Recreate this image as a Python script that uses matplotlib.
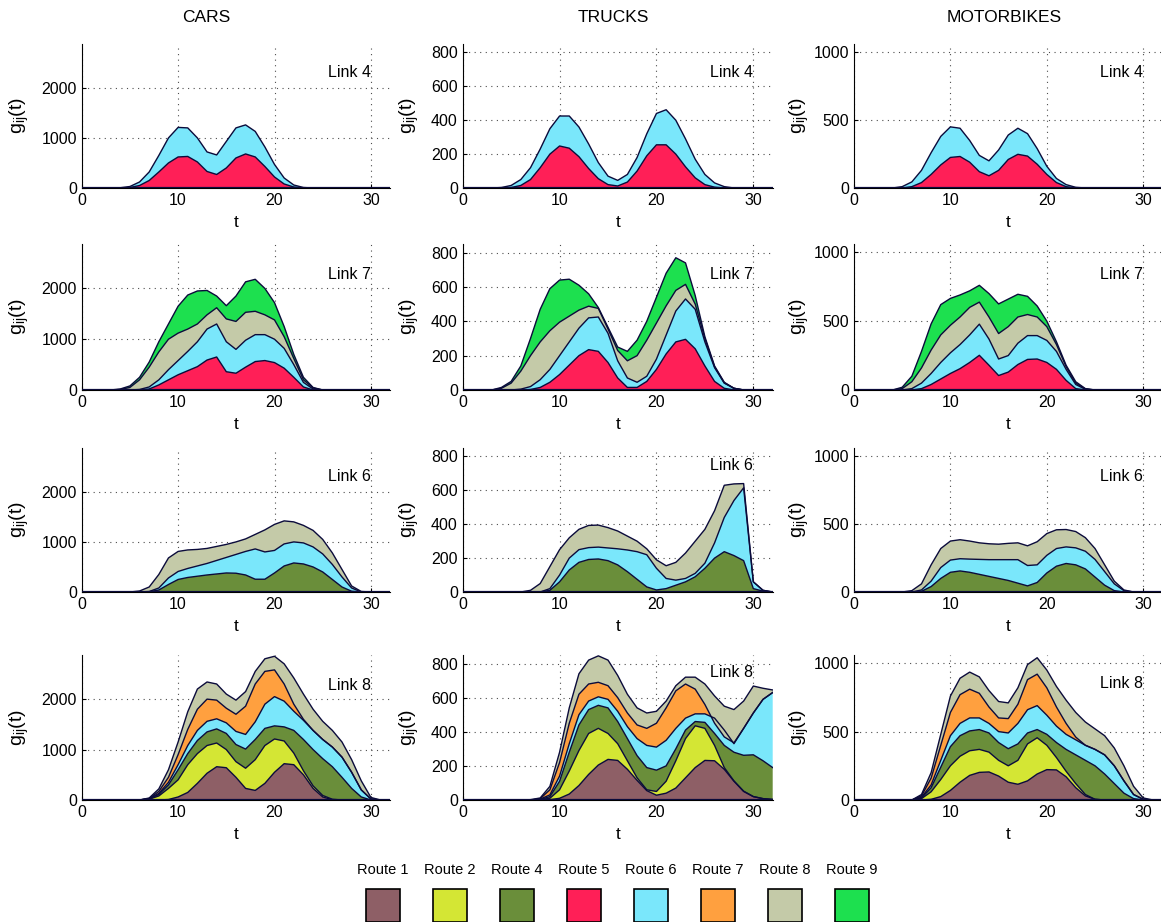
import numpy as np
import matplotlib
matplotlib.use("Agg")
import matplotlib.pyplot as plt

plt.rcParams["font.family"] = ["Liberation Sans", "DejaVu Sans"]
plt.rcParams["mathtext.fontset"] = "custom"
plt.rcParams["mathtext.rm"] = "Liberation Sans"

# time grid (t = 0 .. 32)
t = np.arange(33)

route_names = ["Route 1", "Route 2", "Route 4", "Route 5", "Route 6", "Route 7", "Route 8", "Route 9"]
route_colors = ["#8e5f66", "#d4e634", "#6a8e3a", "#ff1f57", "#7ae7fb", "#ffa03f", "#c4caa8", "#1de04f"]
color_of = dict(zip(route_names, route_colors))

vehicles = ["CARS", "TRUCKS", "MOTORBIKES"]
links = ["Link 4", "Link 7", "Link 6", "Link 8"]
ymax = [2875, 850, 1060]
yticks = [[0, 1000, 2000], [0, 200, 400, 600, 800], [0, 500, 1000]]

# stacked layers: routes listed bottom-up, values are the top of each layer
link4_routes = ["Route 5", "Route 6"]
cars_link4 = [
    [0,0,0,0,0,10,50,150,320,500,620,630,520,330,270,400,600,680,620,430,220,80,20,0,0,0,0,0,0,0,0,0,0],
    [0,0,0,0,5,30,120,320,650,1000,1210,1200,1000,720,660,930,1200,1260,1130,820,470,200,60,10,0,0,0,0,0,0,0,0,0],
]
trucks_link4 = [
    [0,0,0,0,0,3,15,50,120,200,248,235,185,115,55,20,12,35,100,190,255,255,200,125,60,20,5,0,0,0,0,0,0],
    [0,0,0,0,3,15,50,120,230,350,425,425,360,260,150,70,45,80,180,320,440,462,400,290,170,80,30,8,0,0,0,0,0],
]
moto_link4 = [
    [0,0,0,0,0,0,10,40,100,170,225,232,190,120,90,130,210,248,235,175,100,40,10,0,0,0,0,0,0,0,0,0,0],
    [0,0,0,0,0,10,45,130,260,380,450,440,350,240,200,280,390,440,400,290,160,70,25,5,0,0,0,0,0,0,0,0,0],
]

link7_routes = ["Route 5", "Route 6", "Route 8", "Route 9"]
cars_link7 = [
    [0,0,0,0,0,0,0,20,100,200,300,380,460,590,650,360,330,450,560,580,540,430,250,60,0,0,0,0,0,0,0,0,0],
    [0,0,0,0,0,0,10,60,200,400,580,760,950,1200,1300,950,800,980,1090,1090,1000,820,500,150,20,0,0,0,0,0,0,0,0],
    [0,0,0,0,10,50,200,450,750,1000,1120,1200,1300,1480,1620,1400,1350,1530,1550,1480,1380,1050,620,200,40,0,0,0,0,0,0,0,0],
    [0,0,0,0,20,80,250,550,950,1300,1650,1870,1950,1960,1850,1660,1850,2130,2180,2000,1720,1250,700,250,50,0,0,0,0,0,0,0,0],
]
trucks_link7 = [
    [0,0,0,0,0,0,0,3,15,45,90,145,200,235,225,160,70,15,15,50,120,210,280,295,240,140,50,10,0,0,0,0,0],
    [0,0,0,0,0,0,5,20,60,120,200,280,360,420,425,330,170,70,45,80,180,320,460,530,470,280,130,40,10,0,0,0,0],
    [0,0,0,0,10,40,110,200,280,345,395,430,465,488,475,355,230,170,200,290,390,490,580,615,500,300,135,42,10,0,0,0,0],
    [0,0,0,0,15,50,140,300,470,590,640,645,610,560,480,365,250,225,290,400,540,680,770,740,550,310,140,45,10,0,0,0,0],
]
moto_link7 = [
    [0,0,0,0,0,0,0,10,40,80,120,155,200,252,180,105,130,185,222,225,200,150,70,10,0,0,0,0,0,0,0,0,0],
    [0,0,0,0,0,0,10,50,120,200,270,330,400,478,370,225,250,340,395,395,360,280,150,40,5,0,0,0,0,0,0,0,0],
    [0,0,0,0,0,10,60,160,290,400,470,530,600,638,530,410,460,530,548,530,460,330,170,50,8,0,0,0,0,0,0,0,0],
    [0,0,0,0,0,20,100,280,480,620,665,690,720,760,700,625,660,695,680,610,500,350,180,60,10,0,0,0,0,0,0,0,0],
]

link6_routes = ["Route 4", "Route 6", "Route 8"]
cars_link6 = [
    [0,0,0,0,0,0,0,5,40,150,250,290,315,340,360,380,375,340,255,255,380,520,580,560,500,400,250,100,15,0,0,0,0],
    [0,0,0,0,0,0,0,10,80,280,410,470,520,570,630,690,750,810,860,800,830,960,1000,980,900,760,550,300,80,0,0,0,0],
    [0,0,0,0,0,0,20,100,350,680,810,840,850,870,910,950,1000,1060,1150,1240,1350,1420,1400,1330,1230,1050,780,450,120,10,0,0,0],
]
trucks_link6 = [
    [0,0,0,0,0,0,0,0,0,10,60,130,175,192,195,185,160,120,75,30,12,20,40,60,90,140,200,238,215,185,20,5,0],
    [0,0,0,0,0,0,0,0,0,20,100,200,250,262,265,260,255,248,238,220,140,80,70,80,110,170,290,440,540,615,60,10,0],
    [0,0,0,0,0,0,0,10,50,150,250,320,370,393,395,380,360,330,300,255,190,155,175,230,300,370,480,630,638,640,60,10,0],
]
moto_link6 = [
    [0,0,0,0,0,0,0,5,40,100,145,155,145,130,115,100,85,65,45,70,140,190,210,200,170,110,50,10,0,0,0,0,0],
    [0,0,0,0,0,0,0,15,80,180,235,245,242,240,238,238,238,238,195,200,270,320,332,325,300,240,150,60,10,0,0,0,0],
    [0,0,0,0,0,0,10,60,200,320,375,385,375,362,355,352,358,362,340,370,430,458,460,445,400,320,200,80,15,0,0,0,0],
]

link8_routes = ["Route 1", "Route 2", "Route 4", "Route 6", "Route 7", "Route 8"]
cars_link8 = [
    [0,0,0,0,0,0,0,0,0,10,60,150,330,530,660,640,450,230,190,330,550,720,700,500,230,60,5,0,0,0,0,0,0],
    [0,0,0,0,0,0,0,15,80,230,400,700,920,1080,1130,1000,760,630,800,1080,1210,1170,930,580,280,90,15,0,0,0,0,0,0],
    [0,0,0,0,0,0,0,20,110,300,600,920,1180,1350,1410,1320,1100,1010,1200,1420,1470,1450,1380,1200,1000,820,660,450,230,60,0,0,0],
    [0,0,0,0,0,0,0,25,130,350,700,1080,1380,1560,1610,1530,1360,1300,1550,1900,2050,1960,1760,1580,1380,1200,1050,850,550,200,20,0,0],
    [0,0,0,0,0,0,0,30,170,450,900,1400,1800,2000,1980,1820,1700,1860,2300,2550,2580,2300,1900,1600,1380,1200,1050,850,550,200,20,0,0],
    [0,0,0,0,0,0,0,40,220,600,1150,1750,2200,2340,2300,2100,1980,2150,2550,2800,2850,2700,2420,2100,1800,1560,1380,1150,800,380,50,0,0],
]
trucks_link8 = [
    [0,0,0,0,0,0,0,0,0,2,10,35,85,150,205,238,232,180,115,55,28,40,70,130,190,232,230,180,110,50,20,8,3],
    [0,0,0,0,0,0,0,0,2,10,60,170,290,390,420,390,330,230,130,60,50,110,230,360,435,420,320,190,112,52,20,8,3],
    [0,0,0,0,0,0,0,0,3,20,110,280,440,530,555,540,460,360,260,190,175,200,300,410,460,455,390,320,280,262,265,230,190],
    [0,0,0,0,0,0,0,0,5,30,140,330,500,580,605,590,520,430,360,320,310,350,420,480,505,505,480,410,330,420,510,590,630],
    [0,0,0,0,0,0,0,0,8,60,220,450,620,680,690,670,600,510,440,420,450,540,640,680,650,560,450,370,335,420,510,590,630],
    [0,0,0,0,0,0,0,2,12,80,280,540,740,820,845,820,730,620,540,510,520,580,670,720,720,680,610,550,530,580,668,655,645],
]
moto_link8 = [
    [0,0,0,0,0,0,0,0,5,25,70,130,180,202,205,175,130,115,140,190,222,220,170,90,30,5,0,0,0,0,0,0,0],
    [0,0,0,0,0,0,0,10,60,150,250,320,360,370,350,290,250,290,410,455,400,310,210,120,40,5,0,0,0,0,0,0,0],
    [0,0,0,0,0,0,0,15,90,240,390,470,505,515,490,420,375,410,490,515,480,420,370,330,290,250,190,120,50,10,0,0,0],
    [0,0,0,0,0,0,0,20,110,290,470,560,600,600,560,500,490,560,660,690,620,540,480,440,400,370,330,250,140,40,5,0,0],
    [0,0,0,0,0,0,0,30,160,400,640,770,810,780,680,600,595,700,880,920,820,680,560,460,400,370,330,250,140,40,5,0,0],
    [0,0,0,0,0,0,0,40,200,480,760,890,935,900,800,720,710,820,990,1040,950,830,730,640,570,520,470,380,250,100,15,0,0],
]

grid_rows = [
    (link4_routes, [cars_link4, trucks_link4, moto_link4]),
    (link7_routes, [cars_link7, trucks_link7, moto_link7]),
    (link6_routes, [cars_link6, trucks_link6, moto_link6]),
    (link8_routes, [cars_link8, trucks_link8, moto_link8]),
]
label_y = [[0.80, 0.80, 0.80], [0.79, 0.79, 0.79], [0.80, 0.88, 0.80], [0.79, 0.88, 0.80]]

W, H = 1161, 924
fig = plt.figure(figsize=(W / 100, H / 100), dpi=100)

col_left = [81.7, 462.7, 854]
col_width = [308.5, 310, 308.5]
row_top = [44, 244, 448, 655]
row_bottom = [188, 390, 592, 800]
ylab_x = [-0.165, -0.135, -0.14]
edge = "#0b0b3b"

for r, (routes, panels) in enumerate(grid_rows):
    for c, tops in enumerate(panels):
        ax = fig.add_axes([col_left[c] / W, 1 - row_bottom[r] / H,
                           col_width[c] / W, (row_bottom[r] - row_top[r]) / H])
        lower = np.zeros(len(t))
        for route, top in zip(routes, tops):
            top = np.array(top, dtype=float)
            ax.fill_between(t, lower, top, facecolor=color_of[route], edgecolor="none", zorder=2)
            ax.plot(t, top, color=edge, lw=1.0, zorder=3)
            lower = top
        ax.plot(t, np.zeros(len(t)), color=edge, lw=1.6, zorder=3)
        ax.set_xlim(0, 32)
        ax.set_ylim(0, ymax[c])
        ax.set_xticks([0, 10, 20, 30])
        ax.set_yticks(yticks[c])
        ax.grid(True, color="0.3", linestyle=(0, (1, 4)), lw=0.8, zorder=0)
        ax.spines["top"].set_visible(False)
        ax.spines["right"].set_visible(False)
        ax.tick_params(direction="in", length=3, labelsize=11.5)
        ax.set_xlabel("t", fontsize=12.5, labelpad=5)
        ax.set_ylabel(r"$\mathregular{g_{ij}(t)}$", fontsize=14)
        ax.yaxis.set_label_coords(ylab_x[c], 0.5)
        ax.text(30, label_y[r][c] * ymax[c], links[r], ha="right", va="center",
                fontsize=11.5, zorder=4)

title_x = [206, 613, 1004]
for name, x in zip(vehicles, title_x):
    fig.text(x / W, 1 - 18 / H, name, ha="center", va="center", fontsize=12.5)

# legend: coloured boxes with the route names above them
lax = fig.add_axes([349.5 / W, 2 / H, 536 / W, 34 / H])
lax.bar(np.arange(len(route_names)), 1, width=0.52, color=route_colors,
        edgecolor="black", lw=1.2)
for i, name in enumerate(route_names):
    lax.text(i, 1.55, name, ha="center", va="center", fontsize=10.5, clip_on=False)
lax.set_xlim(-0.5, len(route_names) - 0.5)
lax.set_ylim(0, 1.02)
lax.axis("off")

fig.savefig("out.png", dpi=100)
